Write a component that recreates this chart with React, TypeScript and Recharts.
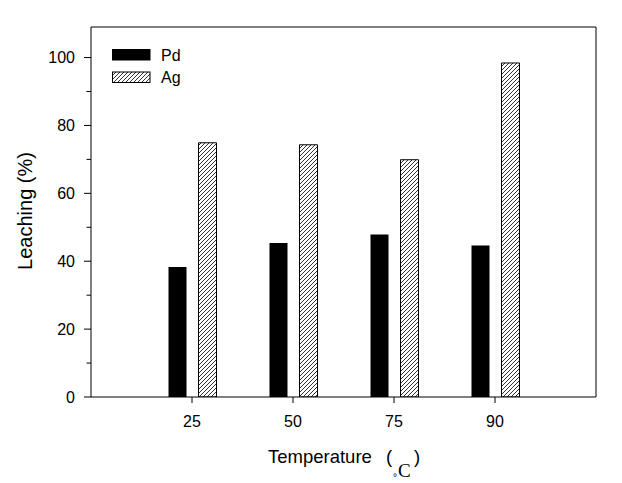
import React from 'react';
import { BarChart, Bar, XAxis, YAxis } from 'recharts';

const temperatures = ['25', '50', '75', '90'];
const pdLeaching = [38.3, 45.4, 47.9, 44.6];
const agLeaching = [74.9, 74.3, 69.9, 98.4];
const yTicks = [0, 10, 20, 30, 40, 50, 60, 70, 80, 90, 100];

const data = temperatures.map((t, i) => ({ temp: t, pd: pdLeaching[i], ag: agLeaching[i] }));

const FONT = '"Liberation Sans", Arial, sans-serif';

// eslint-disable-next-line @typescript-eslint/no-explicit-any
const YTick = (props: any) => {
  const { x, y, payload } = props;
  const major = payload.value % 20 === 0;
  return (
    <g>
      <line x1={x - (major ? 7 : 4.5)} x2={x} y1={y} y2={y} stroke="#000" strokeWidth={1} />
      {major && (
        <text x={x - 16} y={y} dy={5.7} textAnchor="end" fontSize={16} fontFamily={FONT} fill="#000">
          {payload.value}
        </text>
      )}
    </g>
  );
};

// eslint-disable-next-line @typescript-eslint/no-explicit-any
const XTick = (props: any) => {
  const { x, y, payload } = props;
  return (
    <g>
      <line x1={x} x2={x} y1={y} y2={y + 6} stroke="#000" strokeWidth={1} />
      <text x={x} y={y} dy={30} textAnchor="middle" fontSize={16} fontFamily={FONT} fill="#000">
        {payload.value}
      </text>
    </g>
  );
};

// degree sign drops below the baseline, as in the original figure
const XTitle = () => (
  <text x={268} y={463} fontSize={18.5} fontFamily={FONT} fill="#000">
    Temperature
    <tspan x={386}>(</tspan>
    <tspan x={393} y={481} fontSize={10}>°</tspan>
    <tspan x={398} y={477} fontSize={19} fontFamily='"Liberation Serif", serif'>C</tspan>
    <tspan x={414} y={463}>)</tspan>
  </text>
);

const YTitle = () => (
  <text
    x={32}
    y={211}
    transform="rotate(-90, 32, 211)"
    textAnchor="middle"
    fontSize={20}
    fontFamily={FONT}
    fill="#000"
  >
    Leaching (%)
  </text>
);

function HatchDef({ id }: { id: string }) {
  return (
    <pattern id={id} patternUnits="userSpaceOnUse" width={4} height={4}>
      <rect width={4} height={4} fill="#fff" />
      <path d="M-1,1 l2,-2 M0,4 l4,-4 M3,5 l2,-2" stroke="#333" strokeWidth={1} />
    </pattern>
  );
}

export default function App() {
  return (
    <div style={{ position: 'absolute', left: 0, top: 0, width: 622, height: 483, background: '#fff' }}>
      <BarChart
        width={622}
        height={483}
        data={data}
        margin={{ top: 26, right: 25, left: 0, bottom: 0 }}
        barSize={18}
        barGap={12}
      >
        <defs>
          <HatchDef id="hatch-ag" />
        </defs>
        <XAxis
          dataKey="temp"
          height={86}
          padding={{ left: 50.5, right: 50.5 }}
          tickSize={0}
          tickMargin={0}
          tick={<XTick />}
          axisLine={{ stroke: '#000', strokeWidth: 1 }}
          label={() => <XTitle />}
        />
        <XAxis
          xAxisId="top"
          dataKey="temp"
          orientation="top"
          height={1}
          tick={false}
          tickLine={false}
          axisLine={{ stroke: '#000', strokeWidth: 1 }}
        />
        <YAxis
          width={91}
          domain={[0, 109]}
          ticks={yTicks}
          interval={0}
          allowDataOverflow
          tickSize={0}
          tickMargin={0}
          tick={<YTick />}
          axisLine={{ stroke: '#000', strokeWidth: 1 }}
          label={() => <YTitle />}
        />
        <YAxis
          yAxisId="right"
          orientation="right"
          width={1}
          domain={[0, 1]}
          tick={false}
          tickLine={false}
          axisLine={{ stroke: '#000', strokeWidth: 1 }}
        />
        <Bar dataKey="pd" fill="#000" isAnimationActive={false} />
        <Bar dataKey="ag" fill="url(#hatch-ag)" stroke="#000" strokeWidth={1} isAnimationActive={false} />
      </BarChart>

      {/* legend */}
      <svg width={90} height={40} style={{ position: 'absolute', left: 112, top: 48 }}>
        <defs>
          <HatchDef id="hatch-ag-legend" />
        </defs>
        <rect x={0} y={1} width={38.5} height={11.5} fill="#000" />
        <text x={49} y={12.7} fontSize={16} fontFamily={FONT} fill="#000">Pd</text>
        <rect x={0.5} y={24} width={37.5} height={10.5} fill="url(#hatch-ag-legend)" stroke="#000" strokeWidth={1} />
        <text x={49} y={34.7} fontSize={16} fontFamily={FONT} fill="#000">Ag</text>
      </svg>
    </div>
  );
}
